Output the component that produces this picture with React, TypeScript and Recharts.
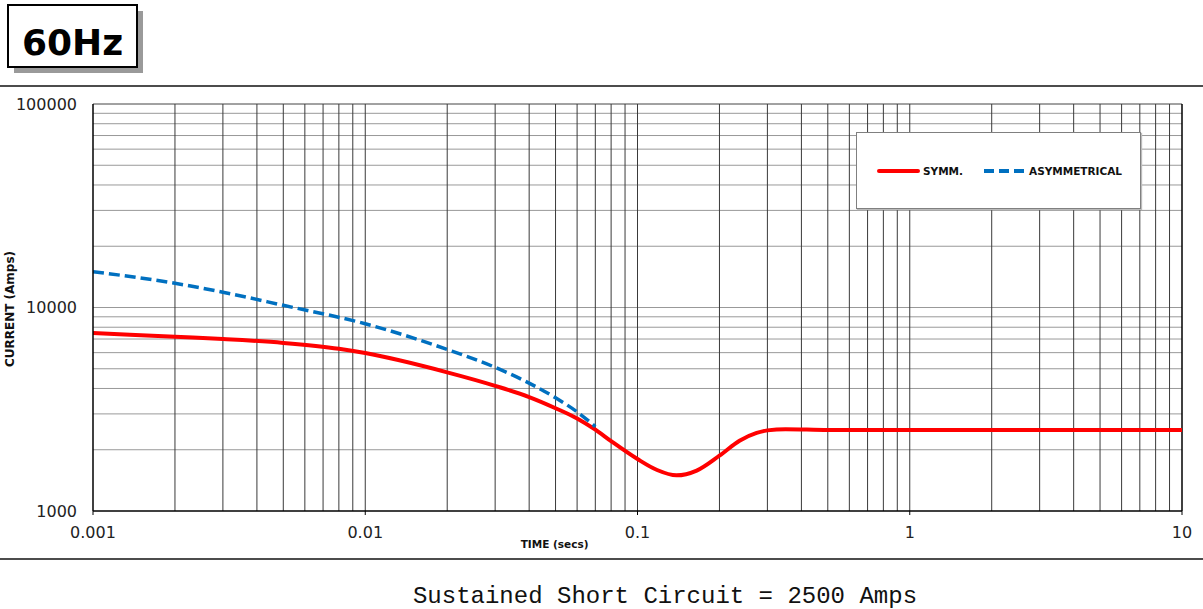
import React from 'react';
import { LineChart, Line, XAxis, YAxis, ReferenceLine } from 'recharts';

// ---- data ----
const symmTime = [0.001, 0.002, 0.003, 0.005, 0.008, 0.01, 0.02, 0.03, 0.04, 0.05, 0.06, 0.07, 0.08, 0.1, 0.118, 0.139, 0.165, 0.2, 0.237, 0.274, 0.3, 0.35, 0.5, 1, 10];
const symmAmps = [7500, 7180, 7000, 6700, 6270, 5970, 4800, 4120, 3630, 3200, 2850, 2510, 2205, 1800, 1590, 1497, 1580, 1870, 2215, 2420, 2490, 2525, 2500, 2500, 2500];
const asymTime = [0.001, 0.002, 0.003, 0.005, 0.01, 0.02, 0.03, 0.04, 0.05, 0.06, 0.07];
const asymAmps = [15000, 13150, 11890, 10250, 8320, 6220, 5080, 4250, 3600, 3070, 2600];

const xTicks = [0.001, 0.01, 0.1, 1, 10];
const yTicks = [1000, 10000, 100000];
const xGrid = [
  0.002, 0.003, 0.004, 0.005, 0.006, 0.007, 0.008, 0.009,
  0.01, 0.02, 0.03, 0.04, 0.05, 0.06, 0.07, 0.08, 0.09,
  0.1, 0.2, 0.3, 0.4, 0.5, 0.6, 0.7, 0.8, 0.9,
  1, 2, 3, 4, 5, 6, 7, 8, 9, 10,
];
const yGrid = [
  2000, 3000, 4000, 5000, 6000, 7000, 8000, 9000,
  10000, 20000, 30000, 40000, 50000, 60000, 70000, 80000, 90000, 100000,
];
const legendNames = ['SYMM.', 'ASYMMETRICAL'];

const symmData = symmTime.map((t, i) => ({ t, v: symmAmps[i] }));
const asymData = asymTime.map((t, i) => ({ t, v: asymAmps[i] }));

const RED = '#ff0000';
const BLUE = '#0070c0';

const LegendBox = () => (
  <div
    style={{
      position: 'absolute',
      left: 856,
      top: 132,
      width: 285,
      height: 77,
      boxSizing: 'border-box',
      border: '1px solid #808080',
      background: '#fff',
      boxShadow: '1px 1px 1px #bbb',
    }}
  >
    <svg width={285} height={77} style={{ position: 'absolute', left: -1, top: -1 }}>
      <line x1={23} y1={39} x2={62} y2={39} stroke={RED} strokeWidth={4} strokeLinecap="round" />
      <line x1={128} y1={39} x2={168} y2={39} stroke={BLUE} strokeWidth={4} strokeDasharray="10 5" />
      <text x={67} y={43} fontFamily="DejaVu Sans" fontWeight="bold" fontSize={10.5} fill="#111">{legendNames[0]}</text>
      <text x={173} y={43} fontFamily="DejaVu Sans" fontWeight="bold" fontSize={10.5} fill="#111">{legendNames[1]}</text>
    </svg>
  </div>
);

export default function App() {
  return (
    <div style={{ position: 'absolute', left: 0, top: 0, width: 1203, height: 609, background: '#fff' }}>
      <LineChart
        width={1203}
        height={609}
        margin={{ top: 104, right: 21, left: 33, bottom: 68 }}
        style={{ position: 'absolute', left: 0, top: 0 }}
      >
        <XAxis
          dataKey="t"
          type="number"
          scale="log"
          domain={[0.001, 10]}
          allowDataOverflow
          ticks={xTicks}
          interval={0}
          height={30}
          tickSize={4}
          tickMargin={12}
          tickLine={{ stroke: '#000' }}
          axisLine={{ stroke: '#000', strokeWidth: 1.5 }}
          tick={{ fontFamily: 'DejaVu Sans', fontSize: 16, fill: '#222' }}
          tickFormatter={(v: number) => String(v)}
        />
        <YAxis
          dataKey="v"
          type="number"
          scale="log"
          domain={[1000, 100000]}
          allowDataOverflow
          ticks={yTicks}
          interval={0}
          width={60}
          tickSize={0}
          tickMargin={16}
          tickLine={false}
          axisLine={{ stroke: '#000', strokeWidth: 1.5 }}
          tick={{ fontFamily: 'DejaVu Sans', fontSize: 16, fill: '#222' }}
        />
        {yGrid.map((v) => (
          <ReferenceLine key={'y' + v} y={v} stroke={v === 100000 ? '#444' : '#999'} strokeWidth={1} />
        ))}
        {xGrid.map((v) => (
          <ReferenceLine key={'x' + v} x={v} stroke={v === 10 ? '#000' : '#3a3a3a'} strokeWidth={v === 10 ? 1.5 : 1} />
        ))}
        <Line
          data={symmData}
          dataKey="v"
          type="monotone"
          stroke={RED}
          strokeWidth={4}
          dot={false}
          isAnimationActive={false}
          name={legendNames[0]}
        />
        <Line
          data={asymData}
          dataKey="v"
          type="monotone"
          stroke={BLUE}
          strokeWidth={3.5}
          strokeDasharray="11 5"
          dot={false}
          isAnimationActive={false}
          name={legendNames[1]}
        />
      </LineChart>
      <LegendBox />
      <svg
        width={1203}
        height={609}
        style={{ position: 'absolute', left: 0, top: 0, pointerEvents: 'none' }}
      >
        <rect x={14} y={11} width={129} height={62} fill="#9a9a9a" />
        <rect x={8} y={5} width={129} height={62} fill="#fff" stroke="#000" strokeWidth={2} />
        <text x={72.5} y={55} textAnchor="middle" fontFamily="DejaVu Sans" fontWeight="bold" fontSize={36} fill="#000">
          60Hz
        </text>
        <line x1={0} y1={86} x2={1203} y2={86} stroke="#111" strokeWidth={1.5} />
        <line x1={0} y1={559} x2={1203} y2={559} stroke="#111" strokeWidth={1.5} />
        <text
          x={9.5}
          y={309}
          dy="0.36em"
          textAnchor="middle"
          transform="rotate(-90, 9.5, 309)"
          fontFamily="DejaVu Sans"
          fontWeight="bold"
          fontSize={12}
          fill="#111"
        >
          CURRENT (Amps)
        </text>
        <text
          x={554.6}
          y={548}
          textAnchor="middle"
          fontFamily="DejaVu Sans"
          fontWeight="bold"
          fontSize={10.5}
          fill="#111"
        >
          TIME (secs)
        </text>
        <text
          x={665}
          y={603}
          textAnchor="middle"
          fontFamily="Liberation Mono"
          fontSize={24}
          fill="#111"
        >
          Sustained Short Circuit = 2500 Amps
        </text>
      </svg>
    </div>
  );
}
